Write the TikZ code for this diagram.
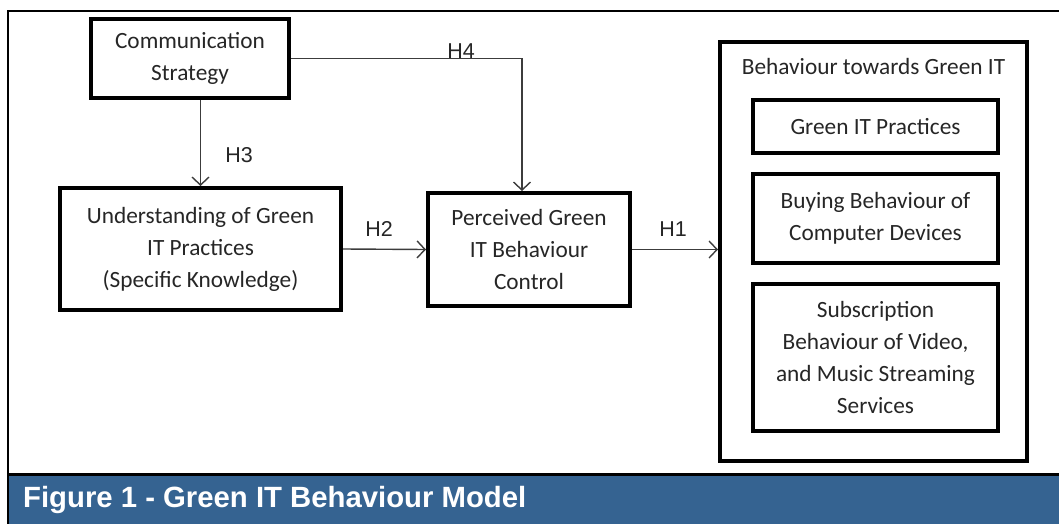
\documentclass[tikz,border=0pt]{standalone}
\usepackage{fontspec}
\setmainfont{Carlito}
\newfontfamily\arialfont{Liberation Sans}
\usetikzlibrary{arrows.meta,calc}
\definecolor{linegray}{HTML}{3C3C3C}
\definecolor{barblue}{HTML}{356391}
\tikzset{
  boxtext/.style={font=\fontsize{23.3}{32}\selectfont, text=black!85},
  box/.style={draw=black, line width=4pt, rectangle, align=center, inner sep=0pt, boxtext},
  arr/.style={draw=linegray, line width=1.4pt,
    -{Straight Barb[length=8pt,width=17pt,line width=1.4pt]}},
  hlabel/.style={font=\arialfont\fontsize{21.5}{24}\selectfont, text=black!85, inner sep=0pt}
}
\begin{document}
\begin{tikzpicture}[x=1pt,y=-1pt]
\useasboundingbox (0,0) rectangle (1059,524);
% frame and caption bar
\fill[barblue] (8,475) rectangle (1059,524);
\draw[line width=2pt] (1059,11) -- (8,11) -- (8,524);
\draw[line width=3pt] (8,474) -- (1059,474);
\node[anchor=west, text=white, font=\arialfont\bfseries\fontsize{29.3}{32}\selectfont, inner sep=0pt]
  (cap) at (23,500) {Figure 1 - Green IT Behaviour Model};

% model boxes
\node[box, minimum width=198pt, minimum height=79pt] (cs) at (190,58.5) {Communication\\Strategy};
\node[box, minimum width=281pt, minimum height=122pt] (und) at (200.5,249) {Understanding of Green\\IT Practices\\(Specific Knowledge)};
\node[box, minimum width=202pt, minimum height=113pt] (per) at (529,249.5) {Perceived Green\\IT Behaviour\\Control};

% outcome group
\node[box, minimum width=307pt, minimum height=419pt] (out) at (873.5,251.5) {};
\node[boxtext, inner sep=0pt] (outtitle) at (873.5,66) {Behaviour towards Green IT};
\node[box, minimum width=245pt, minimum height=53pt] (gp) at (875.5,126.5) {Green IT Practices};
\node[box, minimum width=245pt, minimum height=89pt] (buy) at (875.5,218.5) {Buying Behaviour of\\Computer Devices};
\node[box, minimum width=245pt, minimum height=147pt] (sub) at (875.5,357.5) {Subscription\\Behaviour of Video,\\and Music Streaming\\Services};

% hypotheses
\draw[arr] (cs.south -| und.north) -- (und.north);
\draw[arr] (cs.east) -| ($(per.north)+(-7,0)$);
\draw[arr] (und.east) -- (per.west);
\draw[arr] (per.east) -- (out.west |- per.east);

\node[hlabel] (h3) at (239,155) {H3};
\node[hlabel] (h4) at (461,51) {H4};
\node[hlabel] (h2) at (379,229) {H2};
\node[hlabel] (h1) at (673,229) {H1};
\end{tikzpicture}
\end{document}
